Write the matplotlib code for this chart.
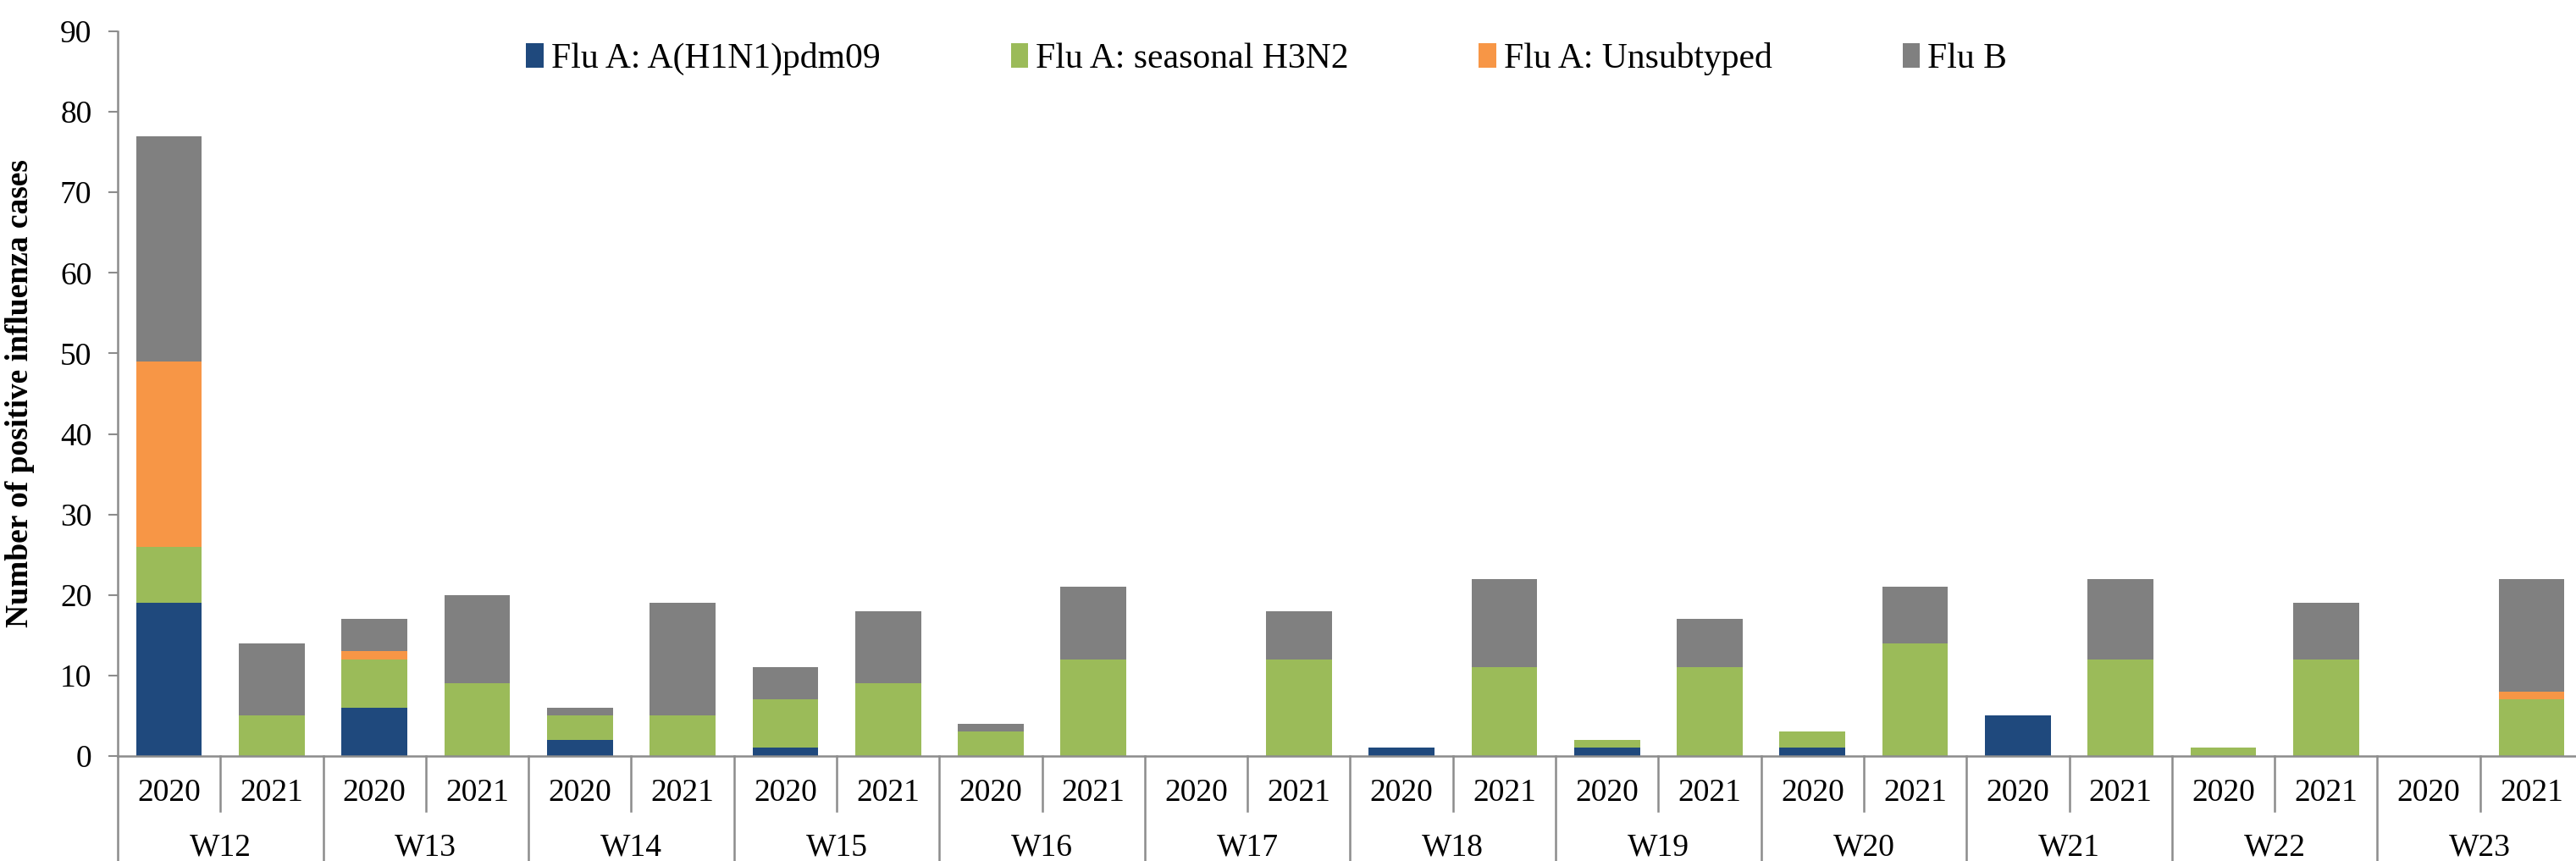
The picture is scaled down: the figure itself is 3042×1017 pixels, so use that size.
import numpy as np
import matplotlib
matplotlib.use("Agg")
import matplotlib.pyplot as plt
import matplotlib.transforms as mtransforms

weeks = ["W12", "W13", "W14", "W15", "W16", "W17", "W18", "W19", "W20", "W21", "W22", "W23"]
years = ["2020", "2021"]

# values per bar, ordered W12-2020, W12-2021, W13-2020, ...
h1n1 = [19, 0, 6, 0, 2, 0, 1, 0, 0, 0, 0, 0, 1, 0, 1, 0, 1, 0, 5, 0, 0, 0, 0, 0]
h3n2 = [7, 5, 6, 9, 3, 5, 6, 9, 3, 12, 0, 12, 0, 11, 1, 11, 2, 14, 0, 12, 1, 12, 0, 7]
unsub = [23, 0, 1, 0, 0, 0, 0, 0, 0, 0, 0, 0, 0, 0, 0, 0, 0, 0, 0, 0, 0, 0, 0, 1]
flub = [28, 9, 4, 11, 1, 14, 4, 9, 1, 9, 0, 6, 0, 11, 0, 6, 0, 7, 0, 10, 0, 7, 0, 14]

series = [
    ("Flu A: A(H1N1)pdm09", h1n1, "#1F497D"),
    ("Flu A: seasonal H3N2", h3n2, "#9BBB59"),
    ("Flu A: Unsubtyped", unsub, "#F79646"),
    ("Flu B", flub, "#808080"),
]

plt.rcParams['font.family'] = ['Liberation Serif', 'DejaVu Serif']
axis_col = "#8c8c8c"

fig = plt.figure(figsize=(30.42, 10.17), dpi=100)
ax = fig.add_axes([139 / 3042, 124 / 1017, 2911 / 3042, 856 / 1017])

x = np.arange(len(h1n1))
bottom = np.zeros(len(x))
for name, vals, col in series:
    ax.bar(x, vals, width=0.64, bottom=bottom, color=col, label=name)
    bottom += np.array(vals)

ax.set_xlim(-0.5, len(x) - 0.5)
ax.set_ylim(0, 90)
ax.set_yticks(np.arange(0, 91, 10))
ax.set_xticks([])
ax.tick_params(axis='y', labelsize=27, length=8, width=1.5, color=axis_col, pad=14)
for s in ["top", "right"]:
    ax.spines[s].set_visible(False)
for s in ["left", "bottom"]:
    ax.spines[s].set_color(axis_col)
    ax.spines[s].set_linewidth(1.8)

ax.set_ylabel("Number of positive influenza cases", fontsize=27, fontweight='bold')
ax.yaxis.set_label_coords(-0.0335, 0.5)

# two level category axis
trans = mtransforms.blended_transform_factory(ax.transData, ax.transAxes)
for i, yr in enumerate(years * len(weeks)):
    ax.text(i, -0.051, yr, transform=trans, ha='center', va='center', fontsize=27)
for j, wk in enumerate(weeks):
    ax.text(2 * j + 0.5, -0.126, wk, transform=trans, ha='center', va='center', fontsize=27)
for k in range(len(x) + 1):
    xb = k - 0.5
    y_end = -0.16 if k % 2 == 0 else -0.076
    ax.plot([xb, xb], [0, y_end], transform=trans, color=axis_col, lw=1.8, clip_on=False)

ax.legend(loc='center', bbox_to_anchor=(0.466, 0.962), ncol=4, frameon=False,
          fontsize=30, handlelength=0.5, handleheight=0.7, handletextpad=0.2,
          columnspacing=3.7)

fig.savefig("out.png", dpi=100)
